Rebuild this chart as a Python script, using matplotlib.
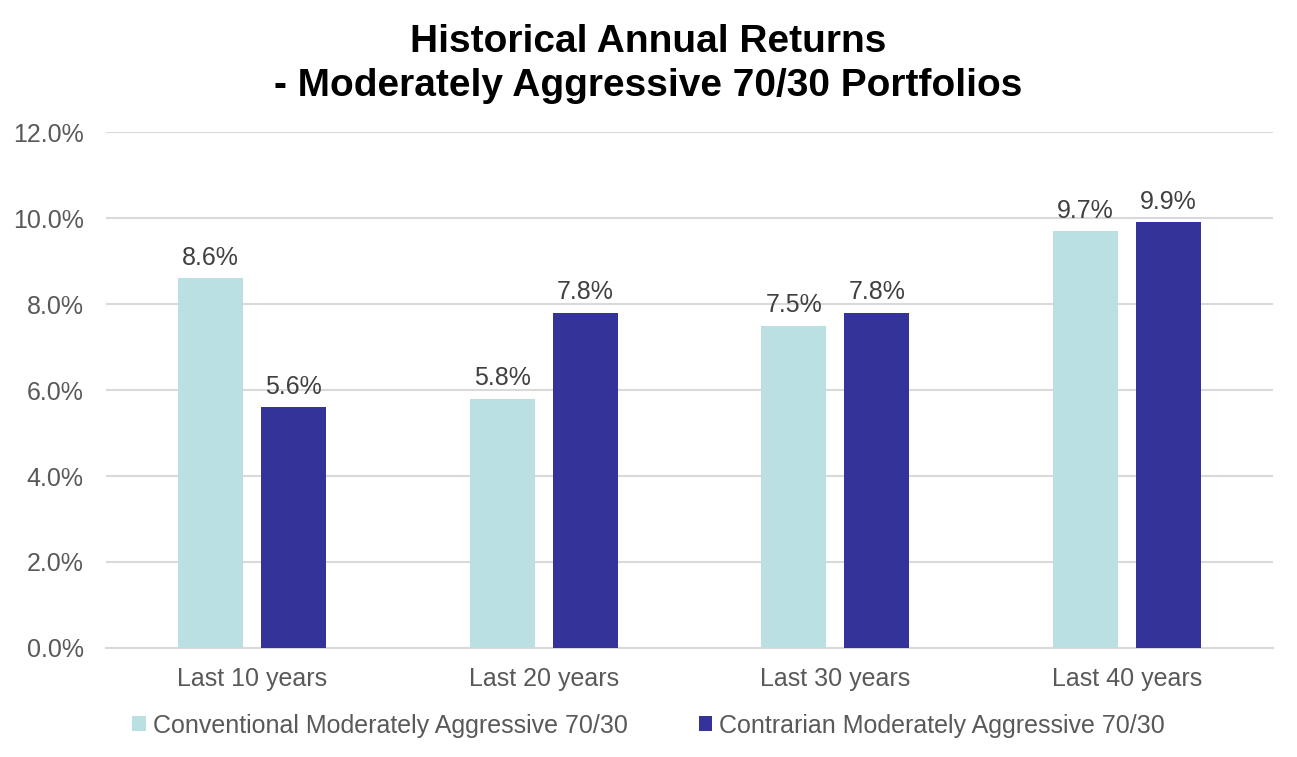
import matplotlib
matplotlib.use("Agg")
import matplotlib.pyplot as plt
import numpy as np
from matplotlib.ticker import FuncFormatter, MultipleLocator

plt.rcParams['font.family'] = ['Liberation Sans', 'DejaVu Sans']

categories = ["Last 10 years", "Last 20 years", "Last 30 years", "Last 40 years"]
series_names = ["Conventional Moderately Aggressive 70/30", "Contrarian Moderately Aggressive 70/30"]
conventional = [8.6, 5.8, 7.5, 9.7]
contrarian = [5.6, 7.8, 7.8, 9.9]
title = "Historical Annual Returns\n- Moderately Aggressive 70/30 Portfolios"

colors = ["#BAE0E3", "#343399"]
text_color = "#595959"

fig = plt.figure(figsize=(12.97, 7.57), dpi=100)
ax = fig.add_axes([0.0817, 0.144, 0.8998, 0.6816])

x = np.arange(len(categories))
w = 0.223
off = 0.142
b1 = ax.bar(x - off, conventional, w, color=colors[0], label=series_names[0], zorder=3)
b2 = ax.bar(x + off, contrarian, w, color=colors[1], label=series_names[1], zorder=3)

for bars, vals in ((b1, conventional), (b2, contrarian)):
    for r, v in zip(bars, vals):
        ax.annotate(f"{v:.1f}%", (r.get_x() + r.get_width() / 2, v), xytext=(0, 6),
                    textcoords="offset points", ha="center", va="bottom",
                    fontsize=18, color="#404040")

ax.set_xlim(-0.5, 3.5)
ax.set_ylim(0, 12)
ax.yaxis.set_major_locator(MultipleLocator(2))
ax.yaxis.set_major_formatter(FuncFormatter(lambda v, p: f"{v:.1f}%"))
ax.grid(axis="y", color="#D9D9D9", linewidth=1.5, zorder=0)
ax.set_xticks(x)
ax.set_xticklabels(categories)
for s in ["top", "right", "left"]:
    ax.spines[s].set_visible(False)
ax.spines["bottom"].set_color("#D9D9D9")
ax.spines["bottom"].set_linewidth(1.5)
ax.tick_params(axis="both", length=0, labelsize=18, labelcolor=text_color)
ax.tick_params(axis="y", pad=16)
ax.tick_params(axis="x", pad=14)

fig.suptitle(title, fontsize=28, fontweight="bold", color="black", y=0.968, linespacing=1.28)

leg = fig.legend(loc="lower center", bbox_to_anchor=(0.5, -0.004), ncol=2, frameon=False,
                 fontsize=18, handlelength=0.55, handleheight=0.55, handletextpad=0.28,
                 columnspacing=2.85, labelcolor=text_color)

fig.savefig("out.png", dpi=100)
